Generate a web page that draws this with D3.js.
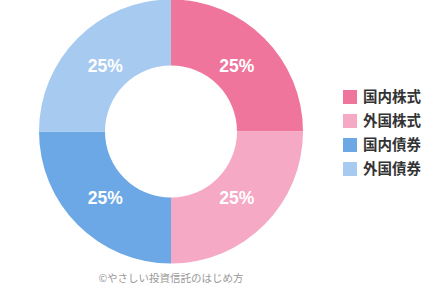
<!DOCTYPE html>
<html>
<head>
<meta charset="utf-8">
<script src="https://cdn.jsdelivr.net/npm/d3@7"></script>
<style>
html,body{margin:0;padding:0;background:#fff;}
svg{display:block;}
</style>
</head>
<body>
<svg id="chart" width="422" height="285"></svg>
<script>
const categories = ["国内株式", "外国株式", "国内債券", "外国債券"];
const values = [25, 25, 25, 25];
const colors = ["#f0759c", "#f5a9c4", "#6ca8e6", "#a7caf0"];
const credit = "©やさしい投資信託のはじめ方";

const svg = d3.select("#chart");
const cx = 171, cy = 131.5, outerR = 132, innerR = 66;

const data = categories.map((c, i) => ({name: c, value: values[i], color: colors[i]}));
const pie = d3.pie().value(d => d.value).sort(null);
const arcs = pie(data);
const arc = d3.arc().innerRadius(innerR).outerRadius(outerR);
const labelArc = d3.arc().innerRadius(93).outerRadius(93);

const g = svg.append("g").attr("transform", `translate(${cx},${cy})`);
g.selectAll("path").data(arcs).join("path")
  .attr("d", arc)
  .attr("fill", d => d.data.color);

g.selectAll("text.lbl").data(arcs).join("text")
  .attr("class", "lbl")
  .attr("transform", d => `translate(${labelArc.centroid(d)})`)
  .attr("text-anchor", "middle")
  .attr("dy", "0.36em")
  .attr("fill", "#fff")
  .style("font-family", "'Liberation Sans', Arial, sans-serif")
  .style("font-weight", "bold")
  .style("font-size", "17.5px")
  .text(d => d.data.value + "%");

const legend = svg.append("g").attr("transform", "translate(343,97)");
const ly = d3.scaleBand().domain(categories).range([0, 96]);
const items = legend.selectAll("g").data(data).join("g")
  .attr("transform", d => `translate(0,${ly(d.name)})`);
items.append("rect")
  .attr("x", 0).attr("y", -7).attr("width", 14).attr("height", 14)
  .attr("fill", d => d.color);
items.append("text")
  .attr("x", 20).attr("y", 0).attr("dy", "0.36em")
  .attr("fill", "#333")
  .style("font-family", "'Noto Sans CJK JP', sans-serif")
  .style("font-weight", "600")
  .style("font-size", "14.5px")
  .text(d => d.name);

svg.append("text")
  .attr("x", cx).attr("y", 279).attr("dy", "0.32em")
  .attr("text-anchor", "middle")
  .attr("fill", "#999")
  .style("font-family", "'Noto Sans CJK JP', sans-serif")
  .style("font-size", "10.5px")
  .text(credit);
</script>
</body>
</html>
